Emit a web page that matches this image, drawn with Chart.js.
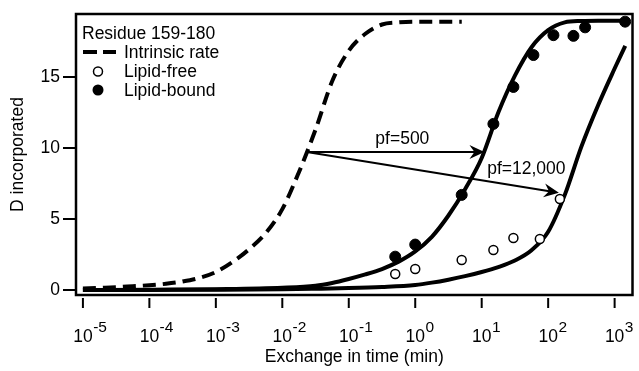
<!DOCTYPE html>
<html>
<head>
<meta charset="utf-8">
<script src="https://cdn.jsdelivr.net/npm/chart.js@4.4.0/dist/chart.umd.min.js"></script>
<style>
  html, body { margin: 0; padding: 0; background: #fff; }
  #wrap { width: 639px; height: 371px; }
</style>
</head>
<body>
<div id="wrap"><canvas id="chart" width="639" height="371"></canvas></div>
<script>
// fitted curves (x as log10 of minutes)
const intrinsicLogT = [-5, -4.75, -4.5, -4.25, -4, -3.75, -3.5, -3.25, -3, -2.75, -2.5, -2.25, -2, -1.75, -1.5, -1.25, -1, -0.75, -0.5, -0.25, 0, 0.25, 0.5, 0.7];
const intrinsicD = [0.1, 0.15, 0.2, 0.27, 0.34, 0.44, 0.6, 0.85, 1.27, 1.97, 2.87, 4.0, 5.7, 8.3, 11.3, 14.7, 16.85, 18.05, 18.7, 18.85, 18.9, 18.9, 18.9, 18.9];

const boundLogT = [-5, -4, -3, -2, -1.5, -1.25, -1, -0.75, -0.5, -0.25, 0, 0.25, 0.5, 0.75, 1, 1.25, 1.5, 1.75, 2, 2.25, 2.5, 2.75, 3, 3.16];
const boundD = [0.0, 0.02, 0.06, 0.16, 0.3, 0.5, 0.78, 1.1, 1.48, 2.0, 2.72, 3.75, 5.25, 7.1, 9.3, 12.5, 15.1, 17.1, 18.3, 18.85, 18.95, 18.97, 18.97, 18.97];

const freeLogT = [-5, -4, -3, -2, -1.5, -1, -0.5, 0, 0.25, 0.5, 0.75, 1, 1.25, 1.5, 1.75, 2, 2.25, 2.5, 2.75, 3, 3.16];
const freeD = [0, 0.01, 0.02, 0.05, 0.09, 0.14, 0.22, 0.36, 0.52, 0.73, 0.98, 1.27, 1.62, 2.08, 2.8, 4.1, 6.7, 10.1, 13.0, 15.6, 17.2];

// measured points (time in min, D incorporated)
const boundT = [0.5, 1, 5, 15, 30, 60, 120, 240, 360, 1440];
const boundPts = [2.35, 3.2, 6.7, 11.7, 14.3, 16.55, 17.95, 17.9, 18.5, 18.9];
const freeT = [0.5, 1, 5, 15, 30, 75, 150];
const freePts = [1.13, 1.48, 2.12, 2.82, 3.66, 3.59, 6.41];

// axes
const xTickExp = [-5, -4, -3, -2, -1, 0, 1, 2, 3];
const yTicks = [0, 5, 10, 15];

// protection factor arrows: [time, D]
const arrowStart = [0.0234, 9.72];
const arrowEnds = [[11.0, 9.72], [145, 6.85]];
const arrowLabels = [['pf=500', 0.64, 10.63], ['pf=12,000', 47, 8.52]];

const FONT = '"Liberation Sans", Arial, sans-serif';
Chart.defaults.font.family = FONT;
Chart.defaults.color = '#000';

const pts = (ts, ds) => ts.map((t, i) => ({ x: t, y: ds[i] }));
const logPts = (ls, ds) => ls.map((l, i) => ({ x: Math.pow(10, l), y: ds[i] }));

const extras = {
  id: 'extras',
  afterDatasetsDraw(chart) {
    const { ctx, chartArea: a, scales: { x, y } } = chart;
    ctx.save();
    ctx.strokeStyle = '#000';
    ctx.fillStyle = '#000';

    // frame
    ctx.lineWidth = 2.5;
    ctx.strokeRect(a.left, a.top, a.right - a.left, a.bottom - a.top);

    // x ticks and 10^n labels
    ctx.lineWidth = 2;
    xTickExp.forEach(e => {
      const px = x.getPixelForValue(Math.pow(10, e));
      ctx.beginPath();
      ctx.moveTo(px, a.bottom + 3);
      ctx.lineTo(px, a.bottom + 13);
      ctx.stroke();
      ctx.font = '17.5px ' + FONT;
      ctx.textAlign = 'center';
      ctx.textBaseline = 'alphabetic';
      ctx.fillText('10', px, a.bottom + 47);
      const w = ctx.measureText('10').width;
      ctx.font = '15.5px ' + FONT;
      ctx.textAlign = 'left';
      ctx.fillText(String(e), px + w / 2 + 0.5, a.bottom + 37);
    });

    // x title
    ctx.font = '17.5px ' + FONT;
    ctx.textAlign = 'center';
    ctx.fillText('Exchange in time (min)', (a.left + a.right) / 2, a.bottom + 67);

    // arrows
    const sx = x.getPixelForValue(arrowStart[0]);
    const sy = y.getPixelForValue(arrowStart[1]);
    ctx.lineWidth = 2;
    arrowEnds.forEach(([t, d]) => {
      const ex = x.getPixelForValue(t);
      const ey = y.getPixelForValue(d);
      const ang = Math.atan2(ey - sy, ex - sx);
      ctx.beginPath();
      ctx.moveTo(sx, sy);
      ctx.lineTo(ex - 8 * Math.cos(ang), ey - 8 * Math.sin(ang));
      ctx.stroke();
      ctx.save();
      ctx.translate(ex, ey);
      ctx.rotate(ang);
      ctx.beginPath();
      ctx.moveTo(0, 0);
      ctx.lineTo(-15, -7);
      ctx.lineTo(-10, 0);
      ctx.lineTo(-15, 7);
      ctx.closePath();
      ctx.fill();
      ctx.restore();
    });
    ctx.font = '17.5px ' + FONT;
    ctx.textAlign = 'center';
    ctx.textBaseline = 'middle';
    arrowLabels.forEach(([txt, t, d]) => {
      ctx.fillText(txt, x.getPixelForValue(t), y.getPixelForValue(d));
    });

    // legend
    const lx = a.left + 6;
    ctx.textAlign = 'left';
    ctx.textBaseline = 'alphabetic';
    ctx.fillText('Residue 159-180', lx, a.top + 25);
    ctx.lineWidth = 4;
    ctx.beginPath();
    ctx.moveTo(a.left + 7, a.top + 38); ctx.lineTo(a.left + 21, a.top + 38);
    ctx.moveTo(a.left + 27, a.top + 38); ctx.lineTo(a.left + 40, a.top + 38);
    ctx.stroke();
    ctx.fillText('Intrinsic rate', a.left + 48, a.top + 43.5);
    ctx.lineWidth = 1.5;
    ctx.beginPath();
    ctx.arc(a.left + 22, a.top + 57.5, 4.5, 0, Math.PI * 2);
    ctx.fillStyle = '#fff'; ctx.fill(); ctx.stroke();
    ctx.fillStyle = '#000';
    ctx.fillText('Lipid-free', a.left + 48, a.top + 62.5);
    ctx.beginPath();
    ctx.arc(a.left + 22, a.top + 76, 5.5, 0, Math.PI * 2);
    ctx.fill();
    ctx.fillText('Lipid-bound', a.left + 48, a.top + 81.5);
    ctx.restore();
  }
};

new Chart(document.getElementById('chart'), {
  type: 'line',
  data: {
    datasets: [
      {
        label: 'Lipid-bound',
        data: pts(boundT, boundPts),
        showLine: false,
        pointRadius: 5.5,
        pointBackgroundColor: '#000',
        pointBorderColor: '#000',
        pointBorderWidth: 1,
        order: 0
      },
      {
        label: 'Lipid-free',
        data: pts(freeT, freePts),
        showLine: false,
        pointRadius: 4.5,
        pointBackgroundColor: '#fff',
        pointBorderColor: '#000',
        pointBorderWidth: 1.5,
        order: 0
      },
      {
        label: 'Intrinsic rate',
        data: logPts(intrinsicLogT, intrinsicD),
        borderColor: '#000',
        borderWidth: 4,
        borderDash: [13, 7],
        pointRadius: 0,
        cubicInterpolationMode: 'monotone',
        order: 1
      },
      {
        label: 'Lipid-bound fit',
        data: logPts(boundLogT, boundD),
        borderColor: '#000',
        borderWidth: 4,
        pointRadius: 0,
        cubicInterpolationMode: 'monotone',
        order: 1
      },
      {
        label: 'Lipid-free fit',
        data: logPts(freeLogT, freeD),
        borderColor: '#000',
        borderWidth: 4,
        pointRadius: 0,
        cubicInterpolationMode: 'monotone',
        order: 1
      }
    ]
  },
  options: {
    responsive: false,
    animation: false,
    layout: { padding: { top: 14, right: 2, left: 0, bottom: 0 } },
    plugins: { legend: { display: false }, tooltip: { enabled: false } },
    scales: {
      x: {
        type: 'logarithmic',
        min: Math.pow(10, -5.104),
        max: Math.pow(10, 3.269),
        ticks: { display: false },
        grid: { display: false },
        border: { display: false },
        afterFit: s => { s.height = 76; }
      },
      y: {
        min: -0.35,
        max: 19.44,
        afterBuildTicks: s => { s.ticks = yTicks.map(v => ({ value: v })); },
        ticks: { font: { size: 17.5 }, padding: 3, color: '#000' },
        grid: { drawOnChartArea: false, drawTicks: true, tickLength: 13, color: '#000', lineWidth: 2 },
        border: { display: false },
        title: { display: true, text: 'D incorporated', font: { size: 17.5 }, color: '#000', padding: { top: 8, bottom: 0 } },
        afterFit: s => { s.width = 76; }
      }
    }
  },
  plugins: [extras]
});
</script>
</body>
</html>
